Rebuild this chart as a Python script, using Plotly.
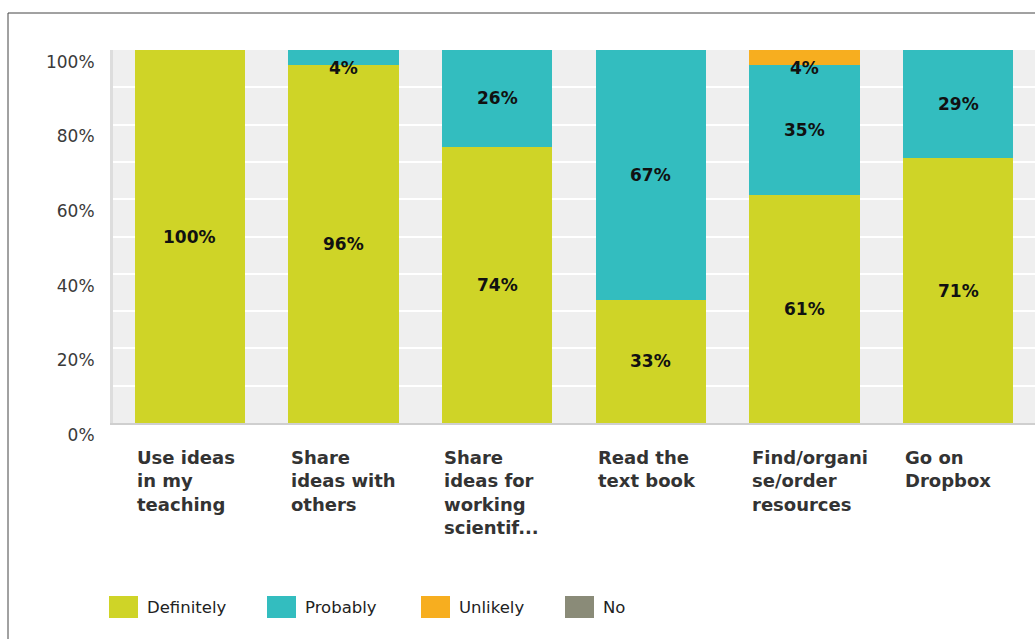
import plotly.graph_objects as go

categories = ["Use ideas<br>in my<br>teaching", "Share<br>ideas with<br>others",
              "Share<br>ideas for<br>working<br>scientif...", "Read the<br>text book",
              "Find/organi<br>se/order<br>resources", "Go on<br>Dropbox"]
series_names = ["Definitely", "Probably", "Unlikely", "No"]
definitely = [100, 96, 74, 33, 61, 71]
probably = [0, 4, 26, 67, 35, 29]
unlikely = [0, 0, 0, 0, 4, 0]
no = [0, 0, 0, 0, 0, 0]
series_values = [definitely, probably, unlikely, no]
colors = ["#cfd427", "#33bdbf", "#f7ae1f", "#8a8b78"]
y_ticks = [0, 20, 40, 60, 80, 100]
y_tick_labels = ["0%", "20%", "40%", "60%", "80%", "100%"]

W, H = 1035, 639
L, R, T, B = 113, 0, 50, 216
PW, PH = W - L - R, H - T - B


def px_x(px):
    return (px - L) / PW


def px_y(py):
    return (H - B - py) / PH


xs = list(range(len(categories)))
fig = go.Figure()
for name, vals, col in zip(series_names, series_values, colors):
    fig.add_trace(go.Bar(x=xs, y=vals, name=name, marker=dict(color=col, line=dict(width=0)),
                         hoverinfo="skip", showlegend=False))

annotations = []
# data labels
base = [0] * len(categories)
for vals in series_values:
    for i, v in enumerate(vals):
        if v > 0:
            if v >= 8:
                annotations.append(dict(x=i, y=base[i] + v / 2, text=f"<b>{v}%</b>", showarrow=False,
                                        font=dict(family="DejaVu Sans", size=17, color="#111111"),
                                        xref="x", yref="y", yanchor="middle"))
            else:
                annotations.append(dict(x=i, y=base[i] + v, text=f"<b>{v}%</b>", showarrow=False,
                                        font=dict(family="DejaVu Sans", size=17, color="#111111"),
                                        xref="x", yref="y", yanchor="top", yshift=-6))
            base[i] += v

# category labels
for i, c in enumerate(categories):
    annotations.append(dict(x=i, y=0, xref="x", yref="paper", text="<b>" + c + "</b>",
                            showarrow=False, xanchor="left", yanchor="top", align="left",
                            xshift=-55, yshift=-22,
                            font=dict(family="DejaVu Sans", size=18, color="#333333")))

# manual legend
shapes = []
legend_x = [109, 267, 421, 565]
for name, col, lx in zip(series_names, colors, legend_x):
    shapes.append(dict(type="rect", xref="paper", yref="paper",
                       x0=px_x(lx), x1=px_x(lx + 29), y0=px_y(618), y1=px_y(596),
                       fillcolor=col, line=dict(width=0)))
    annotations.append(dict(x=px_x(lx + 36), y=px_y(607), xref="paper", yref="paper",
                            text=name, showarrow=False, xanchor="left", yanchor="middle",
                            font=dict(family="DejaVu Sans", size=16.5, color="#222222")))

# outer border
shapes.append(dict(type="rect", xref="paper", yref="paper",
                   x0=px_x(8), x1=px_x(W + 10), y0=px_y(H + 10), y1=px_y(13),
                   line=dict(color="#444444", width=1), fillcolor="rgba(0,0,0,0)", layer="below"))

fig.update_layout(
    width=W, height=H,
    margin=dict(l=L, r=R, t=T, b=B),
    barmode="stack", bargap=0.28,
    paper_bgcolor="white", plot_bgcolor="#efefef",
    annotations=annotations, shapes=shapes,
    showlegend=False,
    xaxis=dict(range=[-0.5, len(categories) - 0.5], showticklabels=False, showgrid=False,
               zeroline=False, showline=True, linecolor="#cfcfcf", linewidth=2, fixedrange=True),
    yaxis=dict(range=[0, 100], tickvals=y_ticks, ticktext=y_tick_labels,
               showgrid=True, gridcolor="white", gridwidth=2,
               minor=dict(dtick=10, showgrid=True, gridcolor="white", gridwidth=2),
               zeroline=False, showline=True, linecolor="#dddddd", linewidth=3,
               ticklabelposition="outside bottom", ticklabelstandoff=12, ticks="",
               tickfont=dict(family="DejaVu Sans", size=17, color="#3a3a3a"), fixedrange=True),
)

fig.write_html("out.html", config={"displayModeBar": False})
